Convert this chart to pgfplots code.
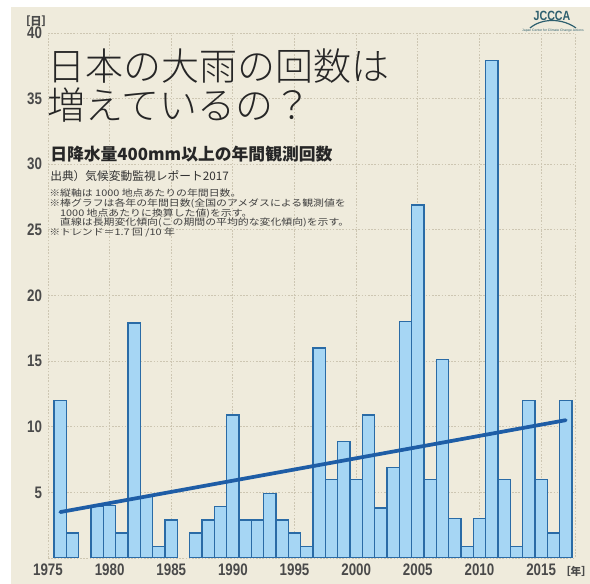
\documentclass[border=0pt]{standalone}
\usepackage{pgfplots}
\pgfplotsset{compat=1.18}
\usepackage{fontspec}
\setmainfont{Liberation Sans}
\newfontfamily\cjk{Noto Sans CJK JP}
\newfontfamily\cjkthin{Noto Sans CJK JP Light}
\newfontfamily\cjknote[FakeStretch=1.2]{Noto Sans CJK JP}
\newfontfamily\tickfont[FakeStretch=0.8]{Liberation Sans}

\definecolor{bg}{HTML}{EFEBDC}
\definecolor{gridc}{HTML}{CDC6B2}
\definecolor{barfill}{HTML}{A6D6F4}
\definecolor{baredge}{HTML}{2A6BA6}
\definecolor{trend}{HTML}{1E5DA6}
\definecolor{ticktxt}{HTML}{4A4A4A}
\definecolor{logo}{HTML}{2D5F6E}

\begin{document}
\begin{tikzpicture}
% background, in image pixels (y measured from the bottom)
\begin{scope}[x=0.75pt,y=0.75pt]
\fill[white] (0,0) rectangle (590,584);
\fill[bg] (11,0) rectangle (590,577);
\end{scope}

\begin{axis}[
    at={(36pt,19.5pt)}, anchor=south west,
    scale only axis,
    width=395.25pt, height=393.75pt,
    xmin=1975, xmax=2017.75,
    ymin=0, ymax=40,
    xtick={1975,1980,...,2015},
    ytick={5,10,...,40},
    grid=major,
    major grid style={gridc, dash pattern=on 1.2pt off 1.2pt, line width=0.7pt},
    axis line style={gridc, dash pattern=on 1.2pt off 1.2pt, line width=0.7pt},
    tick style={draw=none},
    /pgf/number format/1000 sep={},
    /pgf/number format/assume math mode=true,
    ticklabel style={font=\tickfont\bfseries\fontsize{12.5}{12.5}\selectfont, text=ticktxt},
    yticklabel style={xshift=-1pt},
    xticklabel style={yshift=-1pt},
]
\addplot[ybar, bar width=1, fill=barfill, draw=baredge, line width=1pt] coordinates {
    (1976,12.0) (1977,1.9) (1979,3.9) (1980,4.0) (1981,1.9) (1982,17.9)
    (1983,4.7) (1984,0.9) (1985,2.9) (1987,1.9) (1988,2.9) (1989,3.9)
    (1990,10.9) (1991,2.9) (1992,2.9) (1993,4.9) (1994,2.9) (1995,1.9)
    (1996,0.9) (1997,16.0) (1998,6.0) (1999,8.9) (2000,6.0) (2001,10.9)
    (2002,3.8) (2003,6.9) (2004,18.0) (2005,26.9) (2006,6.0) (2007,15.1)
    (2008,3.0) (2009,0.9) (2010,3.0) (2011,37.9) (2012,6.0) (2013,0.9)
    (2014,12.0) (2015,6.0) (2016,1.9) (2017,12.0)
};
\addplot[trend, line width=2.8pt, line cap=round] coordinates {
    (1976,3.5) (2017,10.5)
};
\end{axis}

% texts, in image pixels
\begin{scope}[x=0.75pt,y=0.75pt]
\node[text=ticktxt, font=\cjk\bfseries\fontsize{8.5}{8.5}\selectfont] at (36,563) {［日］};
\node[text=ticktxt, font=\cjk\bfseries\fontsize{8}{8}\selectfont] at (576,13) {［年］};
\node[anchor=west, inner sep=0, text=black!85, font=\cjkthin\fontsize{28.5}{28.5}\selectfont] at (47,518) {日本の大雨の回数は};
\node[anchor=west, inner sep=0, text=black!85, font=\cjkthin\fontsize{28.5}{28.5}\selectfont] at (47,479) {増えているの？};
\node[anchor=west, inner sep=0, text=black!85, font=\cjk\bfseries\fontsize{12.6}{12.6}\selectfont] at (50,430) {日降水量400mm以上の年間観測回数};
\node[anchor=west, inner sep=0, text=black!80, font=\cjk\fontsize{8.8}{8.8}\selectfont] at (50,408) {出典）気候変動監視レポート2017};
\node[anchor=north west, inner sep=0, align=left, text=black!75, font=\cjknote\fontsize{6.8}{7.2}\selectfont] at (49,395) {%
※縦軸は 1000 地点あたりの年間日数。\\
※棒グラフは各年の年間日数(全国のアメダスによる観測値を\\
\phantom{※}1000 地点あたりに換算した値)を示す。\\
\phantom{※}直線は長期変化傾向(この期間の平均的な変化傾向)を示す。\\
※トレンド＝1.7 回 /10 年};
\node[text=logo, font=\tickfont\bfseries\fontsize{10}{10}\selectfont] at (552,568) {JCCCA};
\draw[logo, line width=0.9pt] (530,556) .. controls (542,566) and (562,566) .. (576,556);
\node[text=logo, font=\fontsize{2.5}{2.5}\selectfont] at (553,553) {Japan Center for Climate Change Actions};
\pgfresetboundingbox
\path[use as bounding box] (0,0) rectangle (590,584);
\end{scope}
\end{tikzpicture}
\end{document}
